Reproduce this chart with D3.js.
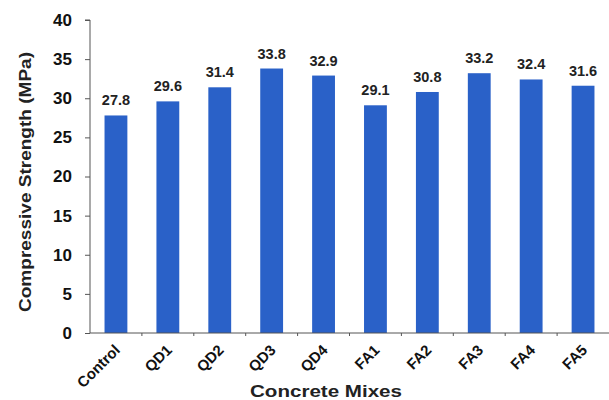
<!DOCTYPE html>
<html><head><meta charset="utf-8">
<script src="https://cdn.jsdelivr.net/npm/d3@7"></script>
<style>body{margin:0;background:#fff}svg{display:block}text{font-family:"Liberation Sans",Arial,sans-serif}</style>
</head><body><svg id="c" width="609" height="400"></svg>
<script>
const categories = ["Control","QD1","QD2","QD3","QD4","FA1","FA2","FA3","FA4","FA5"];
const values = [27.8,29.6,31.4,33.8,32.9,29.1,30.8,33.2,32.4,31.6];
const yTicks = [0,5,10,15,20,25,30,35,40];

const svg = d3.select("#c");
const m = {left:90, right:0, top:20, bottom:67};
const W = 609, H = 400;
const x = d3.scaleBand().domain(categories).range([m.left, W - m.right]).paddingInner(0.56).paddingOuter(0.28);
const y = d3.scaleLinear().domain([0,40]).range([H - m.bottom, m.top]);
const axisCol = "#555";
const font = "Liberation Sans, Arial, sans-serif";

svg.selectAll("rect.bar").data(values).join("rect").attr("class","bar")
  .attr("x",(d,i)=>x(categories[i])).attr("width",x.bandwidth())
  .attr("y",d=>y(d)).attr("height",d=>y(0)-y(d)).attr("fill","#2a61c8");

svg.selectAll("text.val").data(values).join("text").attr("class","val")
  .attr("x",(d,i)=>x(categories[i])+x.bandwidth()/2).attr("y",d=>y(d)-10)
  .attr("text-anchor","middle").attr("font-size",14.5).attr("font-weight","bold").attr("fill","#222")
  .text(d=>d.toFixed(1));

// y axis
const ya = svg.append("g").attr("transform",`translate(${m.left},0)`)
  .call(d3.axisLeft(y).tickValues(yTicks).tickSize(5).tickPadding(13));
ya.select(".domain").attr("stroke",axisCol).attr("d",`M-5,${y(40)}H0V${y(0)}`);
ya.selectAll(".tick line").attr("stroke",axisCol);
ya.selectAll(".tick text").attr("font-size",17).attr("font-weight","bold").attr("fill","#111").attr("font-family",font);

// x axis
const xa = svg.append("g").attr("transform",`translate(0,${y(0)})`)
  .call(d3.axisBottom(x).tickSize(0).tickPadding(0));
xa.select(".domain").attr("stroke",axisCol).attr("d",`M${m.left},0H${W}`);
const step = x.step();
svg.append("g").selectAll("line").data(categories.slice(1)).join("line")
  .attr("x1",d=>x(d)-(step-x.bandwidth())/2).attr("x2",d=>x(d)-(step-x.bandwidth())/2)
  .attr("y1",y(0)).attr("y2",y(0)+3).attr("stroke",axisCol);
xa.selectAll(".tick text").attr("font-size",15).attr("font-weight","bold").attr("fill","#111")
  .attr("font-family",font)
  .attr("text-anchor","end").attr("dy",0)
  .attr("transform","translate(5,18) rotate(-45)");

svg.append("text").attr("x",326).attr("y",397).attr("text-anchor","middle")
  .attr("font-size",17).attr("font-weight","bold").attr("fill","#222")
  .attr("textLength",152).attr("lengthAdjust","spacingAndGlyphs").text("Concrete Mixes");
svg.append("text").attr("transform",`translate(31,182) rotate(-90)`).attr("text-anchor","middle")
  .attr("font-size",16).attr("font-weight","bold").attr("fill","#222")
  .attr("textLength",260).attr("lengthAdjust","spacingAndGlyphs").text("Compressive Strength (MPa)");
</script></body></html>
